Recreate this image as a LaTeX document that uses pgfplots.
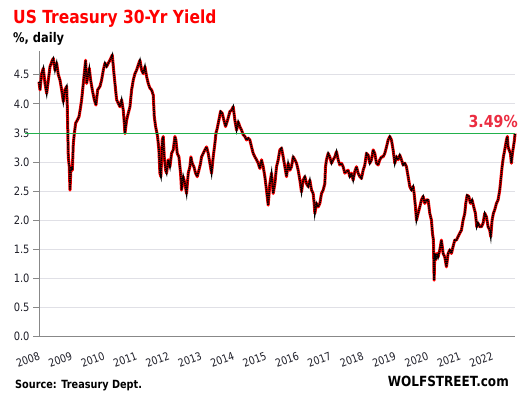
\documentclass[border=0pt]{standalone}
\usepackage{fontspec}
\setmainfont{DejaVu Sans}[FakeStretch=0.86]
\usepackage{pgfplots}
\usepackage{pgfplotstable}
\pgfplotsset{compat=1.18}
\definecolor{gridgray}{RGB}{224,224,230}
\definecolor{axgray}{RGB}{136,136,136}
\definecolor{refgreen}{RGB}{34,177,76}
\definecolor{lblred}{RGB}{235,45,65}
\definecolor{ticklbl}{RGB}{30,30,40}
\pgfplotstableread{
x y
2008.000 4.38
2008.031 4.24
2008.082 4.52
2008.134 4.61
2008.185 4.35
2008.237 4.18
2008.288 4.41
2008.340 4.64
2008.412 4.75
2008.442 4.78
2008.494 4.58
2008.545 4.70
2008.597 4.50
2008.648 4.41
2008.700 4.24
2008.751 4.04
2008.802 4.24
2008.854 4.30
2008.874 3.95
2008.905 3.09
2008.936 2.92
2008.957 2.52
2008.988 2.92
2009.029 2.86
2009.060 3.32
2009.091 3.49
2009.132 3.67
2009.183 3.72
2009.235 3.78
2009.286 3.95
2009.317 4.07
2009.368 4.35
2009.420 4.64
2009.440 4.75
2009.471 4.35
2009.523 4.52
2009.553 4.61
2009.595 4.41
2009.646 4.24
2009.708 4.07
2009.759 3.98
2009.811 4.24
2009.883 4.30
2009.934 4.41
2009.986 4.58
2010.037 4.70
2010.088 4.64
2010.140 4.70
2010.191 4.75
2010.263 4.84
2010.315 4.52
2010.366 4.24
2010.397 4.07
2010.449 4.01
2010.500 3.95
2010.551 4.07
2010.603 3.89
2010.634 3.67
2010.654 3.49
2010.706 3.72
2010.757 3.84
2010.809 3.95
2010.860 4.24
2010.912 4.41
2010.963 4.52
2011.014 4.58
2011.066 4.67
2011.117 4.75
2011.169 4.58
2011.220 4.52
2011.272 4.64
2011.323 4.47
2011.374 4.35
2011.426 4.27
2011.477 4.24
2011.529 4.15
2011.560 3.78
2011.601 3.61
2011.662 3.44
2011.703 3.21
2011.734 2.81
2011.765 2.75
2011.806 3.38
2011.837 3.44
2011.868 3.09
2011.909 2.86
2011.940 2.81
2011.992 3.04
2012.043 2.92
2012.094 3.15
2012.146 3.21
2012.197 3.44
2012.228 3.38
2012.269 3.15
2012.321 3.09
2012.372 2.81
2012.403 2.52
2012.454 2.75
2012.506 2.63
2012.557 2.46
2012.609 2.81
2012.660 2.92
2012.691 3.09
2012.732 2.98
2012.784 2.92
2012.835 2.81
2012.887 2.75
2012.938 2.86
2012.989 2.98
2013.020 3.09
2013.072 3.15
2013.123 3.21
2013.175 3.26
2013.226 3.15
2013.278 2.98
2013.329 2.81
2013.380 3.09
2013.432 3.32
2013.463 3.49
2013.504 3.58
2013.555 3.72
2013.607 3.87
2013.658 3.84
2013.710 3.72
2013.761 3.61
2013.823 3.72
2013.895 3.87
2013.946 3.89
2013.998 3.95
2014.049 3.72
2014.101 3.55
2014.152 3.69
2014.203 3.61
2014.255 3.55
2014.306 3.47
2014.358 3.44
2014.409 3.38
2014.461 3.41
2014.512 3.38
2014.564 3.26
2014.615 3.15
2014.666 3.09
2014.718 3.04
2014.769 2.98
2014.821 2.89
2014.872 3.04
2014.924 2.92
2014.975 2.75
2015.026 2.52
2015.078 2.26
2015.129 2.63
2015.181 2.81
2015.232 2.46
2015.284 2.63
2015.335 2.92
2015.387 3.04
2015.438 3.21
2015.490 3.24
2015.541 3.09
2015.593 2.92
2015.644 2.75
2015.695 2.98
2015.747 2.86
2015.798 2.92
2015.850 3.09
2015.901 3.04
2015.953 2.98
2016.004 2.86
2016.056 2.69
2016.107 2.49
2016.158 2.69
2016.210 2.75
2016.261 2.63
2016.313 2.58
2016.364 2.69
2016.416 2.52
2016.467 2.46
2016.498 2.29
2016.519 2.12
2016.570 2.29
2016.621 2.23
2016.673 2.29
2016.724 2.46
2016.776 2.52
2016.827 2.63
2016.848 2.92
2016.879 3.04
2016.930 3.15
2016.981 3.09
2017.033 2.98
2017.084 3.04
2017.136 3.09
2017.187 3.18
2017.239 3.04
2017.290 2.95
2017.342 2.98
2017.393 2.92
2017.444 2.81
2017.496 2.84
2017.547 2.86
2017.599 2.75
2017.650 2.81
2017.702 2.69
2017.753 2.84
2017.805 2.92
2017.856 2.81
2017.907 2.75
2017.959 2.72
2018.010 2.86
2018.062 2.95
2018.113 3.15
2018.165 3.12
2018.216 2.98
2018.268 3.04
2018.319 3.21
2018.370 3.15
2018.422 2.98
2018.473 2.95
2018.525 3.04
2018.576 3.09
2018.628 3.09
2018.679 3.15
2018.731 3.26
2018.782 3.38
2018.833 3.44
2018.885 3.38
2018.936 3.21
2018.988 2.98
2019.039 3.09
2019.091 3.04
2019.142 3.12
2019.194 3.04
2019.245 2.95
2019.297 2.98
2019.348 2.92
2019.400 2.75
2019.451 2.58
2019.502 2.52
2019.554 2.58
2019.585 2.46
2019.626 2.23
2019.657 2.00
2019.708 2.12
2019.760 2.23
2019.811 2.35
2019.863 2.41
2019.914 2.29
2019.965 2.35
2020.017 2.35
2020.068 2.12
2020.120 2.00
2020.150 1.78
2020.181 1.66
2020.202 0.97
2020.222 1.43
2020.253 1.32
2020.294 1.43
2020.325 1.37
2020.377 1.49
2020.428 1.66
2020.480 1.43
2020.531 1.37
2020.583 1.20
2020.634 1.43
2020.686 1.49
2020.737 1.43
2020.788 1.55
2020.840 1.66
2020.891 1.66
2020.943 1.72
2020.994 1.78
2021.046 1.83
2021.097 2.00
2021.149 2.12
2021.179 2.29
2021.221 2.43
2021.272 2.41
2021.324 2.29
2021.375 2.35
2021.426 2.23
2021.478 2.12
2021.519 1.89
2021.560 1.95
2021.612 1.89
2021.663 1.89
2021.714 1.95
2021.766 2.12
2021.817 2.06
2021.869 1.89
2021.920 1.83
2021.951 1.72
2021.992 2.00
2022.033 2.12
2022.074 2.18
2022.126 2.29
2022.177 2.35
2022.229 2.52
2022.260 2.69
2022.301 2.92
2022.342 3.09
2022.383 3.21
2022.435 3.38
2022.466 3.44
2022.486 3.26
2022.517 3.21
2022.558 3.15
2022.589 2.98
2022.620 3.15
2022.651 3.26
2022.682 3.38
2022.702 3.49
}\yielddata
\begin{document}
\begin{tikzpicture}[x=1pt,y=1pt]
\path[use as bounding box] (-39pt,-59.3pt) rectangle (486pt,336.7pt);
\begin{axis}[
  at={(0,0)}, anchor=south west,
  scale only axis, width=476pt, height=285.2pt,
  xmin=2008, xmax=2022.7, ymin=0, ymax=4.9,
  clip=false,
  axis x line*=bottom, axis y line*=left,
  axis line style={draw=axgray, line width=0.9pt},
  xtick={2008,2009,2010,2011,2012,2013,2014,2015,2016,2017,2018,2019,2020,2021,2022},
  xticklabels={2008,2009,2010,2011,2012,2013,2014,2015,2016,2017,2018,2019,2020,2021,2022},
  x tick style={draw=none},
  xticklabel shift=17pt,
  xticklabel style={font=\fontsize{11}{12}\selectfont, text=ticklbl, xshift=-11pt, rotate=20, anchor=center},
  ytick={0,0.5,1,1.5,2,2.5,3,3.5,4,4.5},
  yticklabel style={font=\fontsize{11.5}{12}\selectfont, text=ticklbl},
  /pgf/number format/assume math mode=true,
  /pgf/number format/.cd, fixed, fixed zerofill, precision=1, /pgfplots/.cd,
  y tick style={draw=axgray, line width=0.8pt},
  tick align=outside, major tick length=6pt,
  ymajorgrids, grid style={draw=gridgray, line width=0.9pt},
]
\addplot[draw=red, line width=3pt, line join=round, forget plot] table[x=x,y=y]{\yielddata};
\addplot[draw=black, line width=1.8pt, dash pattern=on 1.4pt off 0.7pt, forget plot] table[x=x,y=y]{\yielddata};
\addplot[draw=refgreen, mark=none, line width=1.3pt, forget plot] coordinates {(2007.57,3.49) (2022.7,3.49)};
\node[anchor=base east, text=lblred, font=\bfseries\fontsize{16.5}{18}\selectfont, inner sep=0pt] at (axis cs:2022.7,3.49) [xshift=3pt, yshift=6.5pt] {3.49\%};
\end{axis}
\node[anchor=base west, inner sep=0pt, text=red, font=\bfseries\fontsize{18}{20}\selectfont] at (-26pt,313.4pt) {US Treasury 30-Yr Yield};
\node[anchor=base west, inner sep=0pt, text=black, font=\bfseries\fontsize{13.3}{15}\selectfont] at (-26pt,294.4pt) {\%, daily};
\node[anchor=base west, inner sep=0pt, text=black, font=\bfseries\fontsize{11.3}{13}\selectfont] at (-24pt,-52.3pt) {Source: Treasury Dept.};
\node[anchor=base east, inner sep=0pt, text=black, font=\bfseries\fontsize{14}{16}\selectfont] at (470pt,-50.3pt) {WOLFSTREET.com};
\end{tikzpicture}
\end{document}
